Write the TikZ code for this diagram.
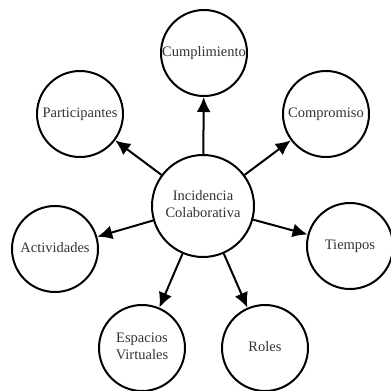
\documentclass[tikz,border=0pt]{standalone}
\usepackage{fontspec}
\setmainfont{Liberation Serif}
\usetikzlibrary{arrows.meta}
\newcommand{\ctext}[1]{\makebox[0pt]{\begin{tabular}{@{}c@{}}#1\end{tabular}}}

\begin{document}
\begin{tikzpicture}[x=1pt,y=-1pt]
        \tikzset{concept/.style={draw,circle,line width=2pt,inner sep=0pt,
                minimum size=86pt,text=black!80,font=\fontsize{14.5}{17}\selectfont},
            central/.style={concept,minimum size=102pt},
            link/.style={draw,line width=2pt,-{Latex[length=15pt,width=14pt]}}}
        \useasboundingbox (0,0) rectangle (391,391);
        \node[central] (inc) at (203,206) {\ctext{Incidencia\\Colaborativa}};
        \node[concept] (cum) at (204,53) {\ctext{Cumplimiento}};
        \node[concept] (par) at (80,114) {\ctext{Participantes}};
        \node[concept] (com) at (326,114) {\ctext{Compromiso}};
        \node[concept] (act) at (55,249) {\ctext{Actividades}};
        \node[concept] (tie) at (350,246) {\ctext{Tiempos}};
        \node[concept] (esp) at (142,348) {\ctext{Espacios\\Virtuales}};
        \node[concept] (rol) at (265,348) {\ctext{Roles}};
        \foreach \n in {cum,par,com,act,tie,esp,rol}
            \draw[link] (inc) -- (\n);
    \end{tikzpicture}
\end{document}
